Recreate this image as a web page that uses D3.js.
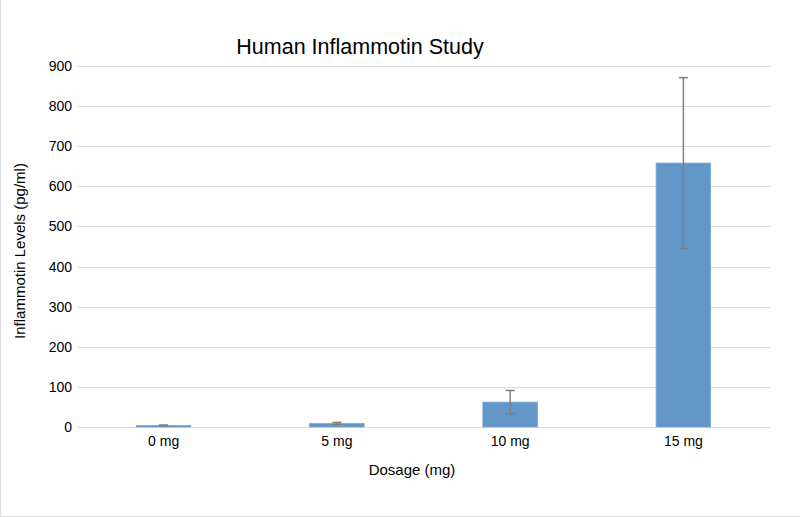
<!DOCTYPE html>
<html><head><meta charset="utf-8">
<script src="https://cdn.jsdelivr.net/npm/d3@7"></script>
<style>body{margin:0;background:#fff}svg{display:block;font-family:"Liberation Sans",Arial,sans-serif}</style>
</head><body><svg id="c" width="800" height="517"></svg>
<script>
const categories = ["0 mg", "5 mg", "10 mg", "15 mg"];
const values = [4, 9, 62, 658];
const errors = [1, 2.5, 29, 213];
const yTicks = [0, 100, 200, 300, 400, 500, 600, 700, 800, 900];
const title = "Human Inflammotin Study";
const xTitle = "Dosage (mg)";
const yTitle = "Inflammotin Levels (pg/ml)";

const svg = d3.select("#c");
const W = 800, H = 517;
const m = {l: 77, r: 30, t: 66, b: 90};
const x = d3.scaleBand().domain(categories).range([m.l, W - m.r]).paddingInner(0.685).paddingOuter(0.3425);
const y = d3.scaleLinear().domain([0, 900]).range([H - m.b, m.t]);

// border
svg.append("path").attr("d", `M0.5,0 V${H-0.5} H${W}`).attr("fill","none").attr("stroke","#d9d9d9");

// grid
svg.append("g").selectAll("line").data(yTicks).join("line")
  .attr("x1", m.l).attr("x2", W - m.r)
  .attr("y1", d => Math.round(y(d)) + 0.5).attr("y2", d => Math.round(y(d)) + 0.5)
  .attr("stroke", "#dcdcdc").attr("stroke-width", 1);

// y axis labels
const yAxis = d3.axisLeft(y).tickValues(yTicks).tickSize(0).tickPadding(5);
const gy = svg.append("g").attr("transform", `translate(${m.l},0)`).call(yAxis);
gy.select(".domain").remove();
gy.selectAll("text").attr("font-size", 14).attr("fill", "#000").attr("font-family", "Liberation Sans, Arial, sans-serif");

// x axis labels
const xAxis = d3.axisBottom(x).tickSize(0).tickPadding(9);
const gx = svg.append("g").attr("transform", `translate(0,${H - m.b})`).call(xAxis);
gx.select(".domain").remove();
gx.selectAll("text").attr("font-size", 14).attr("fill", "#000").attr("font-family", "Liberation Sans, Arial, sans-serif");

// bars
svg.append("g").selectAll("rect").data(values).join("rect")
  .attr("x", (d, i) => x(categories[i]))
  .attr("width", x.bandwidth())
  .attr("y", d => y(d))
  .attr("height", d => y(0) - y(d))
  .attr("fill", "#6397c9").attr("stroke", "#7ba9d6").attr("stroke-width", 0.8);

// error bars
const eg = svg.append("g").attr("stroke", "#7f7f7f").attr("stroke-width", 1.5);
values.forEach((v, i) => {
  const cx = x(categories[i]) + x.bandwidth() / 2;
  const lo = y(v - errors[i]), hi = y(v + errors[i]);
  eg.append("line").attr("x1", cx).attr("x2", cx).attr("y1", lo).attr("y2", hi);
  eg.append("line").attr("x1", cx - 4.5).attr("x2", cx + 4.5).attr("y1", lo).attr("y2", lo);
  eg.append("line").attr("x1", cx - 4.5).attr("x2", cx + 4.5).attr("y1", hi).attr("y2", hi);
});

// titles
svg.append("text").attr("x", 360).attr("y", 54).attr("text-anchor", "middle")
  .attr("font-size", 21.5).attr("fill", "#000").text(title);
svg.append("text").attr("x", 412).attr("y", 475).attr("text-anchor", "middle")
  .attr("font-size", 15).attr("fill", "#000").text(xTitle);
svg.append("text").attr("transform", "translate(25,251) rotate(-90)").attr("text-anchor", "middle")
  .attr("font-size", 15).attr("fill", "#000").text(yTitle);
</script></body></html>
